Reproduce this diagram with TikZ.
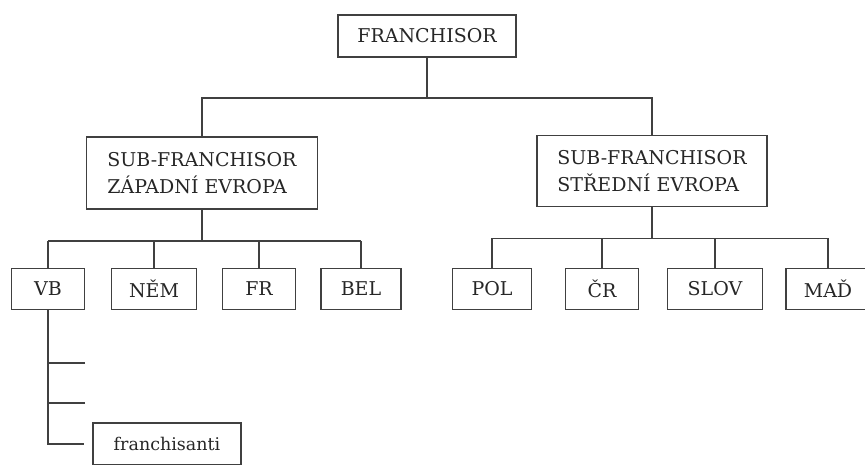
\documentclass[tikz,border=0pt]{standalone}
\usepackage{fontspec}
\setmainfont{DejaVu Serif}
\begin{document}
\begin{tikzpicture}
[x=1pt, y=-1pt,
box/.style={shape=rectangle, draw=black!75, line width=1.5pt, text=black!85,
    inner sep=0pt, font=\fontsize{19}{27}\selectfont},
sub/.style={box, align=left, minimum width=231pt, minimum height=72pt},
land/.style={box, minimum height=41pt},
wire/.style={draw=black!75, line width=1.5pt}
]
\useasboundingbox (0,0) rectangle (865,464);
\node[box, minimum width=178pt, minimum height=42pt] (root) at (427,36) {FRANCHISOR};
%\tikzset{every node/.style={font=\bfseries}}
\node[sub] (subW) at (202,173) {SUB-FRANCHISOR\\ZÁPADNÍ EVROPA};
\node[sub, minimum width=230pt, minimum height=71pt] (subS) at (652,171) {SUB-FRANCHISOR\\STŘEDNÍ EVROPA};
% zapadni
\node[land, minimum width=73pt] (VB) at (48,289) {VB};
\node[land, minimum width=85pt] (NEM) at (154,289) {NĚM};
\node[land, minimum width=73pt] (FR) at (259,289) {FR};
\node[land, minimum width=80pt] (BEL) at (361,289) {BEL};
% stredni
\node[land, minimum width=79pt] (POL) at (492,289) {POL};
\node[land, minimum width=73pt] (CR) at (602,289) {ČR};
\node[land, minimum width=95pt] (SLOV) at (715,289) {SLOV};
\node[land, minimum width=84pt] (MAD) at (828,289) {MAĎ};
\node[box, minimum width=148pt, minimum height=42pt, font=\fontsize{17.5}{20}\selectfont] (fran) at (167,444) {franchisanti};

\draw[wire] (root.south) -- ++(0,40) coordinate (j0);
\draw[wire] (subW.north) |- (j0) -| (subS.north);
\draw[wire] (subW.south) -- ++(0,31) coordinate (j1);
\draw[wire] (subS.south) -- ++(0,31) coordinate (j2);
\draw[wire] (VB.north |- j1) -- (BEL.north |- j1);
\draw[wire] (POL.north |- j2) -- (MAD.north |- j2);
\foreach \n in {VB,NEM,FR,BEL}
    \draw[wire] (\n.north) -- (\n.north |- j1);
\foreach \n in {POL,CR,SLOV,MAD}
    \draw[wire] (\n.north) -- (\n.north |- j2);
% franchisanti
\coordinate (e1) at (85,363);
\coordinate (e2) at (85,403);
\draw[wire] (VB.south) |- ([xshift=-8pt]fran.west);
\draw[wire] (e1) -- (e1 -| VB.south);
\draw[wire] (e2) -- (e2 -| VB.south);
\end{tikzpicture}
\end{document}
